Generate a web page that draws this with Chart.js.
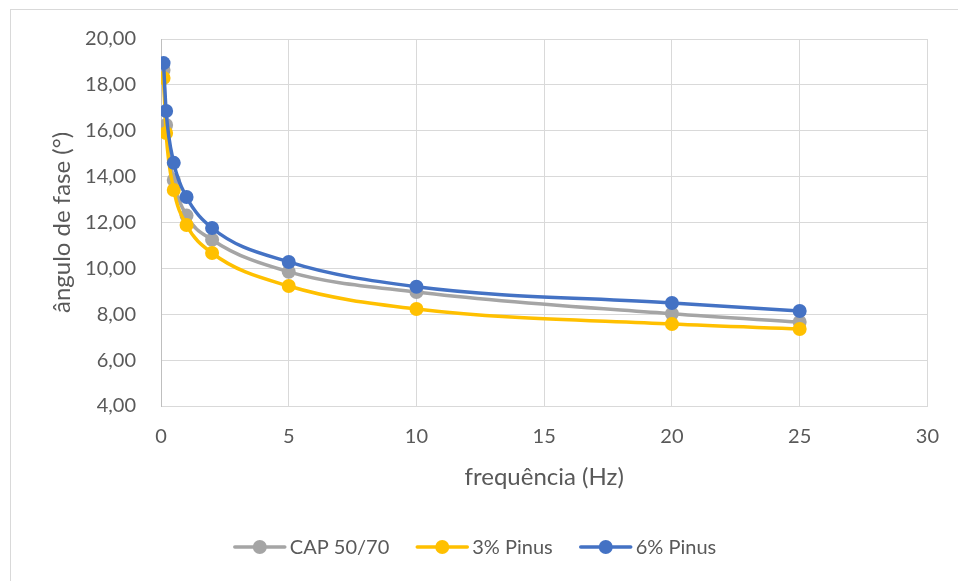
<!DOCTYPE html>
<html><head><meta charset="utf-8">
<script src="https://cdn.jsdelivr.net/npm/chart.js@4/dist/chart.umd.min.js"></script>
<style>html,body{margin:0;padding:0;background:#fff}#wrap{width:958px;height:581px;position:relative}</style>
</head><body><div id="wrap"><canvas id="c" width="958" height="581"></canvas></div>
<script>
// ---- data ----
const frequencies = [0.1, 0.2, 0.5, 1, 2, 5, 10, 20, 25];
const cap5070 = [18.65, 16.25, 13.85, 12.30, 11.25, 9.85, 8.97, 8.02, 7.66];
const pinus3 = [18.30, 15.90, 13.42, 11.89, 10.67, 9.23, 8.23, 7.57, 7.36];
const pinus6 = [18.95, 16.86, 14.60, 13.11, 11.76, 10.28, 9.20, 8.49, 8.14];
const seriesNames = ['CAP 50/70', '3% Pinus', '6% Pinus'];
const seriesValues = [cap5070, pinus3, pinus6];
const seriesColors = ['#A5A5A5', '#FFC000', '#4472C4'];
const xTitle = 'frequência (Hz)';
const yTitle = 'ângulo de fase (°)';

const FONT = 'Lato';
const FS = 20;
const TFS = 24;
const TXT = '#595959';

const datasets = seriesNames.map((name, i) => ({
  label: name,
  data: frequencies.map((f, j) => ({x: f, y: seriesValues[i][j]})),
  borderColor: seriesColors[i],
  backgroundColor: seriesColors[i],
  pointBackgroundColor: seriesColors[i],
  pointBorderWidth: 0,
  pointRadius: 7,
  pointHoverRadius: 7,
  borderWidth: 3.5,
  showLine: true,
  cubicInterpolationMode: 'monotone',
  order: 3 - i
}));

const frame = {
  id: 'frame',
  beforeDraw(chart) {
    const ctx = chart.ctx;
    ctx.save();
    ctx.fillStyle = '#fff';
    ctx.fillRect(0, 0, chart.width, chart.height);
    ctx.strokeStyle = '#D9D9D9';
    ctx.lineWidth = 1;
    ctx.strokeRect(10.5, 9.5, 1000, 700);
    ctx.restore();
  },
  afterDraw(chart) {
    const ctx = chart.ctx;
    ctx.save();
    ctx.font = FS + 'px ' + FONT;
    ctx.textBaseline = 'middle';
    ctx.fillStyle = TXT;
    const lineLen = 50, gapText = 5, gapItem = 28;
    const widths = seriesNames.map(n => lineLen + gapText + ctx.measureText(n).width);
    const total = widths.reduce((a, b) => a + b, 0) + gapItem * (seriesNames.length - 1);
    let x = 475.5 - total / 2;
    const y = 547;
    seriesNames.forEach((n, i) => {
      ctx.strokeStyle = seriesColors[i];
      ctx.lineWidth = 3.5;
      ctx.lineCap = 'round';
      ctx.beginPath();
      ctx.moveTo(x, y);
      ctx.lineTo(x + lineLen, y);
      ctx.stroke();
      ctx.fillStyle = seriesColors[i];
      ctx.beginPath();
      ctx.arc(x + lineLen / 2, y, 7, 0, Math.PI * 2);
      ctx.fill();
      ctx.fillStyle = TXT;
      ctx.textAlign = 'left';
      ctx.fillText(n, x + lineLen + gapText, y + 1);
      x += widths[i] + gapItem;
    });
    ctx.restore();
  }
};

new Chart(document.getElementById('c'), {
  type: 'scatter',
  data: {datasets},
  options: {
    responsive: false,
    devicePixelRatio: 1,
    animation: false,
    events: [],
    layout: {padding: {left: 0, top: 39, right: 29, bottom: 0}},
    plugins: {legend: {display: false}, tooltip: {enabled: false}},
    scales: {
      x: {
        type: 'linear', min: 0, max: 30,
        afterFit(s) { s.height = 175; },
        ticks: {stepSize: 5, color: TXT, font: {family: FONT, size: FS}, padding: 19, maxRotation: 0},
        grid: {color: '#D9D9D9', lineWidth: 1, drawTicks: false},
        border: {color: '#D9D9D9'},
        title: {display: true, text: xTitle, color: TXT, font: {family: FONT, size: TFS}, padding: {top: 0, bottom: 89}}
      },
      y: {
        type: 'linear', min: 4, max: 20,
        afterFit(s) { s.width = 161; },
        ticks: {stepSize: 2, color: TXT, font: {family: FONT, size: FS}, padding: 25,
          callback: v => v.toFixed(2).replace('.', ',')},
        grid: {color: '#D9D9D9', lineWidth: 1, drawTicks: false},
        border: {color: '#BFBFBF'},
        title: {display: true, text: yTitle, color: TXT, font: {family: FONT, size: TFS}, padding: {top: 48, bottom: 0}}
      }
    }
  },
  plugins: [frame]
});
</script>
</body></html>
